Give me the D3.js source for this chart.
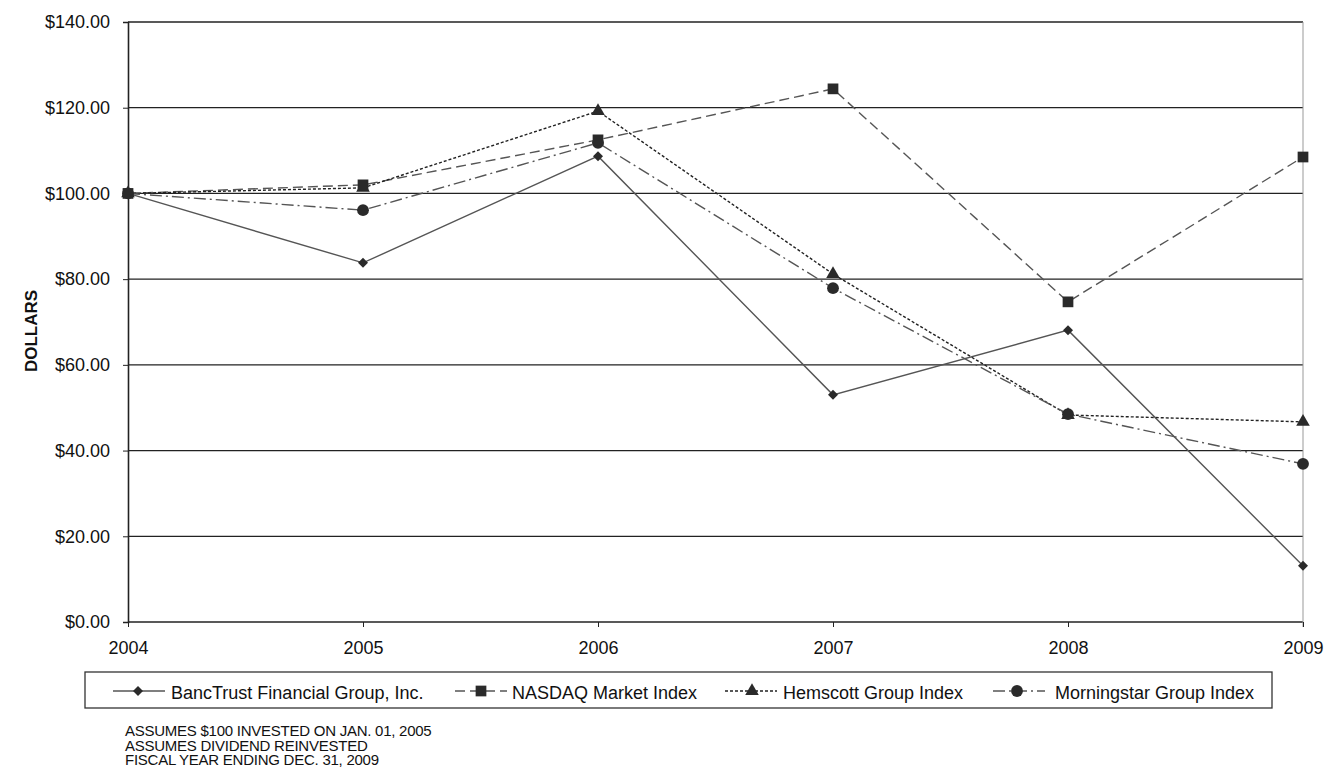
<!DOCTYPE html>
<html lang="en">
<head>
    <meta charset="UTF-8">
    <title>Total Return Performance</title>
    <script src="https://d3js.org/d3.v7.min.js"></script>
    <style>
        body { margin: 0; background: #fff; }
        text { font-family: "Liberation Sans", Arial, sans-serif; fill: #111; }
    </style>
</head>
<body>
    <div id="chart"></div>

    <script>
        const years = ["2004", "2005", "2006", "2007", "2008", "2009"];
        const yTicks = [0, 20, 40, 60, 80, 100, 120, 140];

        const bancTrust = [100, 83.8, 108.7, 53.0, 68.1, 13.1];
        const nasdaq = [100, 102.0, 112.5, 124.4, 74.7, 108.5];
        const hemscott = [100, 101.3, 119.2, 81.2, 48.3, 46.7];
        const morningstar = [100, 96.1, 111.8, 77.9, 48.5, 36.9];

        const seriesNames = ["BancTrust Financial Group, Inc.", "NASDAQ Market Index", "Hemscott Group Index", "Morningstar Group Index"];
        const footnotes = ["ASSUMES $100 INVESTED ON JAN. 01, 2005", "ASSUMES DIVIDEND REINVESTED", "FISCAL YEAR ENDING DEC. 31, 2009"];

        const width = 1327, height = 774;
        const plotLeft = 128, plotRight = 1303, plotTop = 22, plotBottom = 622;

        const svg = d3.select("#chart").append("svg")
            .attr("width", width)
            .attr("height", height);

        const x = d3.scalePoint().domain(years).range([plotLeft, plotRight]);
        const y = d3.scaleLinear().domain([0, 140]).range([plotBottom, plotTop]);

        // gridlines
        svg.append("g").selectAll("line")
            .data(yTicks)
            .enter().append("line")
            .attr("x1", plotLeft).attr("x2", plotRight)
            .attr("y1", d => y(d)).attr("y2", d => y(d))
            .attr("stroke", "#222").attr("stroke-width", 1.3);

        // right border
        svg.append("line")
            .attr("x1", plotRight).attr("x2", plotRight)
            .attr("y1", plotTop).attr("y2", plotBottom + 5)
            .attr("stroke", "#999").attr("stroke-width", 1);

        const yAxis = svg.append("g")
            .attr("transform", "translate(" + plotLeft + ",0)")
            .call(d3.axisLeft(y).tickValues(yTicks).tickSize(5).tickPadding(13)
                .tickFormat(d => "$" + d3.format(".2f")(d)));
        yAxis.selectAll("text").style("font-size", "18px");
        yAxis.select(".domain").attr("stroke", "#222").attr("stroke-width", 1.6);
        yAxis.selectAll(".tick line").attr("stroke", "#222");

        const xAxis = svg.append("g")
            .attr("transform", "translate(0," + plotBottom + ")")
            .call(d3.axisBottom(x).tickSize(5).tickPadding(14));
        xAxis.selectAll("text").style("font-size", "18px");
        xAxis.select(".domain").remove();
        xAxis.selectAll(".tick line").attr("stroke", "#222");

        svg.append("text")
            .attr("transform", "translate(37," + 331 + ") rotate(-90)")
            .attr("text-anchor", "middle")
            .style("font-size", "17px")
            .style("font-weight", "bold")
            .text("DOLLARS");

        const series = [
            { name: seriesNames[0], values: bancTrust, dash: null, color: "#555", marker: "diamond" },
            { name: seriesNames[1], values: nasdaq, dash: "10,5", color: "#555", marker: "square" },
            { name: seriesNames[2], values: hemscott, dash: "3,2", color: "#222", marker: "triangle" },
            { name: seriesNames[3], values: morningstar, dash: "12,4,2,4", color: "#555", marker: "circle" }
        ];

        const symbols = {
            diamond: d3.symbol().type(d3.symbolSquare).size(50),
            square: d3.symbol().type(d3.symbolSquare).size(115),
            triangle: d3.symbol().type(d3.symbolTriangle).size(80),
            circle: d3.symbol().type(d3.symbolCircle).size(110)
        };
        const rot = m => m === "diamond" ? " rotate(45)" : "";

        const line = d3.line()
            .x((d, i) => x(years[i]))
            .y(d => y(d));

        series.forEach(s => {
            svg.append("path")
                .attr("d", line(s.values))
                .attr("fill", "none")
                .attr("stroke", s.color)
                .attr("stroke-width", 1.4)
                .attr("stroke-dasharray", s.dash);
        });

        // markers: square drawn last so it sits on top
        [2, 3, 0, 1].forEach(k => {
            const s = series[k];
            svg.append("g").selectAll("path")
                .data(s.values)
                .enter().append("path")
                .attr("transform", (d, i) => "translate(" + x(years[i]) + "," + y(d) + ")" + rot(s.marker))
                .attr("d", symbols[s.marker])
                .attr("fill", "#2a2a2a");
        });

        // legend
        svg.append("rect")
            .attr("x", 85).attr("y", 672)
            .attr("width", 1187).attr("height", 36)
            .attr("fill", "none").attr("stroke", "#333").attr("stroke-width", 1.3);

        const legendLine = [113, 455, 725, 993];
        const legendMarker = [138, 481, 752, 1017];
        const legendText = [171, 512, 783, 1055];
        series.forEach((s, i) => {
            const g = svg.append("g").attr("transform", "translate(0,691)");
            g.append("line")
                .attr("x1", legendLine[i]).attr("x2", legendLine[i] + 52)
                .attr("stroke", s.color).attr("stroke-width", 1.4)
                .attr("stroke-dasharray", s.dash);
            g.append("path")
                .attr("transform", "translate(" + legendMarker[i] + ",0)" + rot(s.marker))
                .attr("d", symbols[s.marker])
                .attr("fill", "#2a2a2a");
            g.append("text")
                .attr("x", legendText[i]).attr("y", 8)
                .style("font-size", "18px")
                .text(s.name);
        });

        svg.append("g").selectAll("text")
            .data(footnotes)
            .enter().append("text")
            .attr("x", 125)
            .attr("y", (d, i) => 736 + i * 14.5)
            .style("font-size", "15px")
            .style("letter-spacing", "-0.25px")
            .text(d => d);
    </script>
</body>
</html>
